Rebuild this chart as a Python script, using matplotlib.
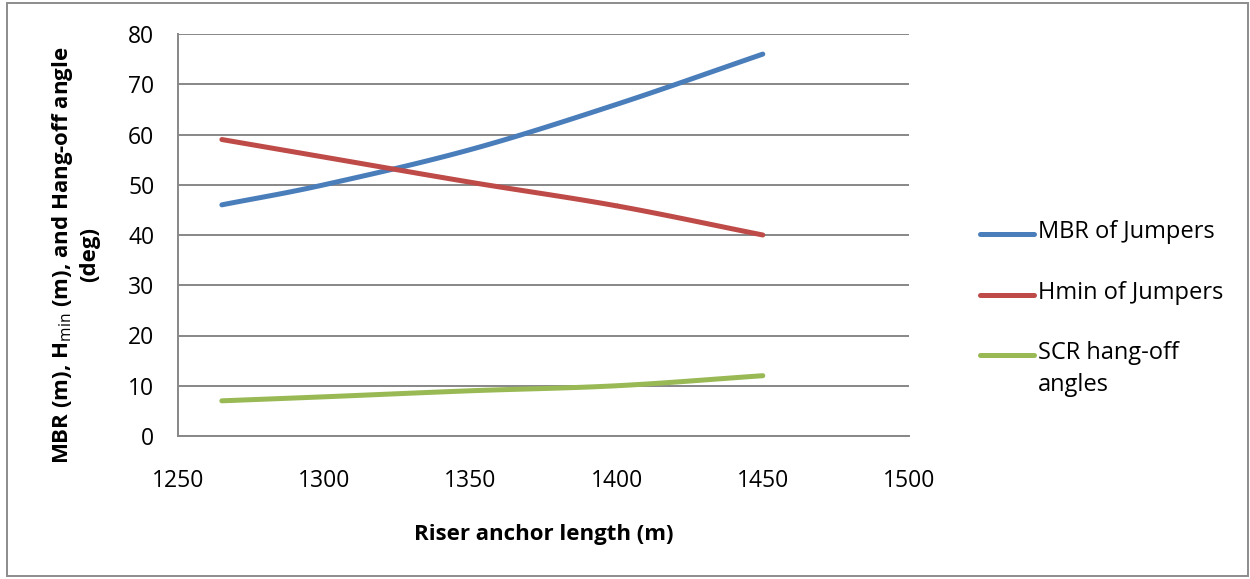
import numpy as np
import matplotlib
matplotlib.use("Agg")
import matplotlib.pyplot as plt
from matplotlib.lines import Line2D
from matplotlib.patches import Rectangle

plt.rcParams['font.family'] = ['Open Sans', 'DejaVu Sans']
plt.rcParams['mathtext.fontset'] = 'custom'
plt.rcParams['mathtext.rm'] = 'Open Sans'

# data
length = [1265, 1300, 1350, 1400, 1450]
mbr = [46, 50, 57, 66, 76]
hmin = [59, 55.5, 50.5, 45.8, 40]
scr = [7, 7.8, 9, 10, 12]
names = ["MBR of Jumpers", "Hmin of Jumpers", "SCR hang-off\nangles"]
colors = ["#4a7ebb", "#be4b48", "#98b954"]


def smooth(x, y, n=30):
    # catmull-rom style smoothing, like excel "smoothed line"
    x = np.asarray(x, float)
    y = np.asarray(y, float)
    px = np.concatenate([[2 * x[0] - x[1]], x, [2 * x[-1] - x[-2]]])
    py = np.concatenate([[2 * y[0] - y[1]], y, [2 * y[-1] - y[-2]]])
    xs, ys = [], []
    t = np.linspace(0, 1, n)
    for i in range(1, len(px) - 2):
        for p, out in ((px, xs), (py, ys)):
            p0, p1, p2, p3 = p[i - 1], p[i], p[i + 1], p[i + 2]
            out.append(0.5 * (2 * p1 + (-p0 + p2) * t
                              + (2 * p0 - 5 * p1 + 4 * p2 - p3) * t ** 2
                              + (-p0 + 3 * p1 - 3 * p2 + p3) * t ** 3))
    return np.concatenate(xs), np.concatenate(ys)


fig = plt.figure(figsize=(12.5, 5.79), dpi=100)
ax = fig.add_axes([178 / 1250, 1 - 436 / 579, (909 - 178) / 1250, (436 - 34) / 579])

for yv, c in zip([mbr, hmin, scr], colors):
    sx, sy = smooth(length, yv)
    ax.plot(sx, sy, color=c, lw=3.6, solid_capstyle='round', zorder=3)

ax.set_xlim(1250, 1500)
ax.set_ylim(0, 80)
ax.set_xticks(np.arange(1250, 1501, 50))
ax.set_yticks(np.arange(0, 81, 10))
ax.yaxis.grid(True, color='#878787', lw=1.4)
ax.set_axisbelow(True)
for s in ['top', 'right']:
    ax.spines[s].set_visible(False)
for s in ['left', 'bottom']:
    ax.spines[s].set_color('#878787')
    ax.spines[s].set_linewidth(1.4)
ax.tick_params(length=0, labelsize=16.5)
ax.tick_params(axis='y', pad=17)
ax.tick_params(axis='x', pad=24)

ax.set_xlabel("Riser anchor length (m)", fontsize=16, fontweight='bold', labelpad=22)
fig.text(75.5 / 1250, 1 - 255 / 579,
         "MBR (m), H$_{\\rm min}$ (m), and Hang-off angle\n(deg)",
         fontsize=16, fontweight='bold', rotation=90, ha='center', va='center',
         multialignment='center', linespacing=1.25)

# legend drawn by hand so the handle sits on the first text line
leg_y = [234, 295, 355]
for ly, name, c in zip(leg_y, names, colors):
    fy = 1 - ly / 579
    fig.add_artist(Line2D([980 / 1250, 1034 / 1250], [fy, fy], color=c, lw=3.6,
                          solid_capstyle='round', transform=fig.transFigure))
    fig.text(1038 / 1250, fy + 14 / 579, name, fontsize=17, va='top', ha='left',
             linespacing=1.45)

fig.add_artist(Rectangle((7 / 1250, 3 / 579), 1241 / 1250, 573 / 579, fill=False,
                         edgecolor='#8c8c8c', lw=1.4, transform=fig.transFigure))

fig.savefig("out.png", dpi=100)
